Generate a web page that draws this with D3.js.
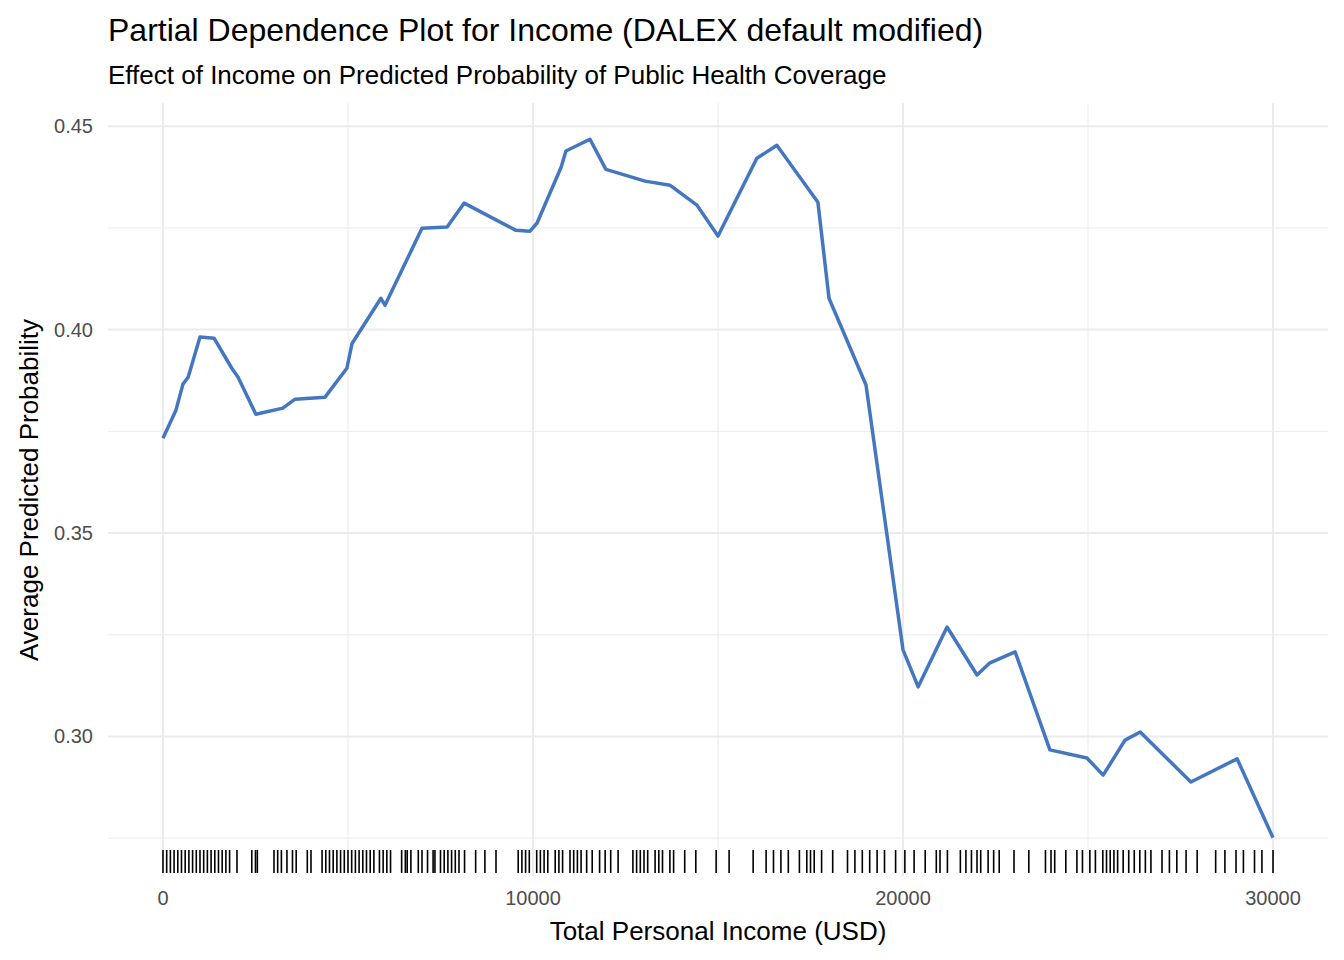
<!DOCTYPE html>
<html><head><meta charset="utf-8">
<script src="https://cdn.jsdelivr.net/npm/d3@7"></script>
<style>body{margin:0;background:#fff;font-family:"Liberation Sans",Arial,sans-serif}</style>
</head><body><svg id="chart" width="1344" height="960"></svg>
<script>
const incomeX = [0,350,540,680,1000,1380,1860,2030,2510,3240,3570,4380,4970,5110,5890,6000,7000,7680,8140,9540,9920,10110,10760,10890,11540,11970,13030,13700,14430,15000,16050,16590,17700,18000,19000,20000,20410,21190,22000,22350,23030,23970,24970,25410,26000,26410,27780,29030,30000];
const avgProb = [.3733,.3802,.3866,.3883,.3982,.3979,.3905,.3883,.3792,.3807,.3829,.3834,.3905,.3966,.4077,.4060,.4249,.4252,.4311,.4244,.4242,.4262,.4399,.4439,.4468,.4394,.4365,.4355,.4306,.4230,.4421,.4453,.4313,.4077,.3864,.3213,.3122,.3269,.3151,.3181,.3208,.2967,.2947,.2905,.2991,.3011,.2888,.2945,.2751];
const rugIncome = [0,100,200,300,400,500,600,700,800,900,1000,1100,1200,1300,1400,1500,1600,1700,1800,2000,
2400,2500,2550,3000,3100,3200,3350,3500,3600,3900,4000,
4300,4400,4500,4600,4700,4800,4900,5000,5100,5200,5300,5400,5500,5600,5700,5850,5950,6050,6150,
6450,6550,6600,6700,6900,7000,7150,7300,7350,7500,7600,7700,7800,7900,8000,8150,8450,8700,9000,
9600,9700,9800,9900,10100,10200,10300,10400,10600,10700,10800,11000,11100,11200,11300,11450,11600,11800,11950,12100,12300,
12700,12800,12900,13000,13100,13300,13400,13500,13700,13800,14100,14400,14950,15300,
15950,16300,16500,16700,16900,17200,17400,17500,17600,17800,18100,
18500,18700,18900,19100,19300,19500,19800,20050,20300,20600,20900,21000,21200,
21550,21700,21850,22000,22100,22300,22450,22600,23000,23400,23850,24000,24100,
24400,24700,24850,25050,25200,25400,25500,25600,25700,25800,25950,26100,26250,26400,26550,26700,
27000,27200,27400,27650,27950,28450,28700,29000,29200,29500,29700,30000];
const xTicks = [0,10000,20000,30000];
const yTicks = [0.30,0.35,0.40,0.45];
const yMinor = [0.275,0.325,0.375,0.425];

const svg = d3.select('#chart');
const pLeft = 108, pRight = 1328, pTop = 103, pBottom = 876;
const x = d3.scaleLinear().domain([-1486, 31486]).range([pLeft, pRight]);
const y = d3.scaleLinear().domain([0.2657, 0.4557]).range([pBottom, pTop]);

const grid = svg.append('g');
yMinor.forEach(v => grid.append('line').attr('x1', pLeft).attr('x2', pRight).attr('y1', y(v)).attr('y2', y(v)).attr('stroke', '#ebebeb').attr('stroke-width', 1));
[5000,15000,25000].forEach(v => grid.append('line').attr('y1', pTop).attr('y2', pBottom).attr('x1', x(v)).attr('x2', x(v)).attr('stroke', '#ebebeb').attr('stroke-width', 1));
yTicks.forEach(v => grid.append('line').attr('x1', pLeft).attr('x2', pRight).attr('y1', y(v)).attr('y2', y(v)).attr('stroke', '#ebebeb').attr('stroke-width', 2));
xTicks.forEach(v => grid.append('line').attr('y1', pTop).attr('y2', pBottom).attr('x1', x(v)).attr('x2', x(v)).attr('stroke', '#ebebeb').attr('stroke-width', 2));

svg.append('g').selectAll('line').data(rugIncome).join('line')
	.attr('x1', d => x(d)).attr('x2', d => x(d))
	.attr('y1', pBottom - 26).attr('y2', pBottom - 3)
	.attr('stroke', '#000').attr('stroke-width', 1.6);

const line = d3.line().x((d, i) => x(incomeX[i])).y(d => y(d));
svg.append('path').datum(avgProb).attr('d', line)
	.attr('fill', 'none').attr('stroke', '#4477c0').attr('stroke-width', 3.5).attr('stroke-linejoin', 'round');

svg.append('g').selectAll('text').data(xTicks).join('text')
	.attr('x', d => x(d)).attr('y', 905).attr('text-anchor', 'middle')
	.attr('font-size', 20).attr('fill', '#4d4d4d').text(d => d);
svg.append('g').selectAll('text').data(yTicks).join('text')
	.attr('x', 93).attr('y', d => y(d) + 7).attr('text-anchor', 'end')
	.attr('font-size', 20).attr('fill', '#4d4d4d').text(d => d3.format('.2f')(d));

svg.append('text').attr('x', 718).attr('y', 940).attr('text-anchor', 'middle').attr('font-size', 26).text('Total Personal Income (USD)');
svg.append('text').attr('transform', 'translate(38,490) rotate(-90)').attr('text-anchor', 'middle').attr('font-size', 26).text('Average Predicted Probability');
svg.append('text').attr('x', 108).attr('y', 41).attr('font-size', 32).text('Partial Dependence Plot for Income (DALEX default modified)');
svg.append('text').attr('x', 108).attr('y', 84).attr('font-size', 26).text('Effect of Income on Predicted Probability of Public Health Coverage');
</script></body></html>
